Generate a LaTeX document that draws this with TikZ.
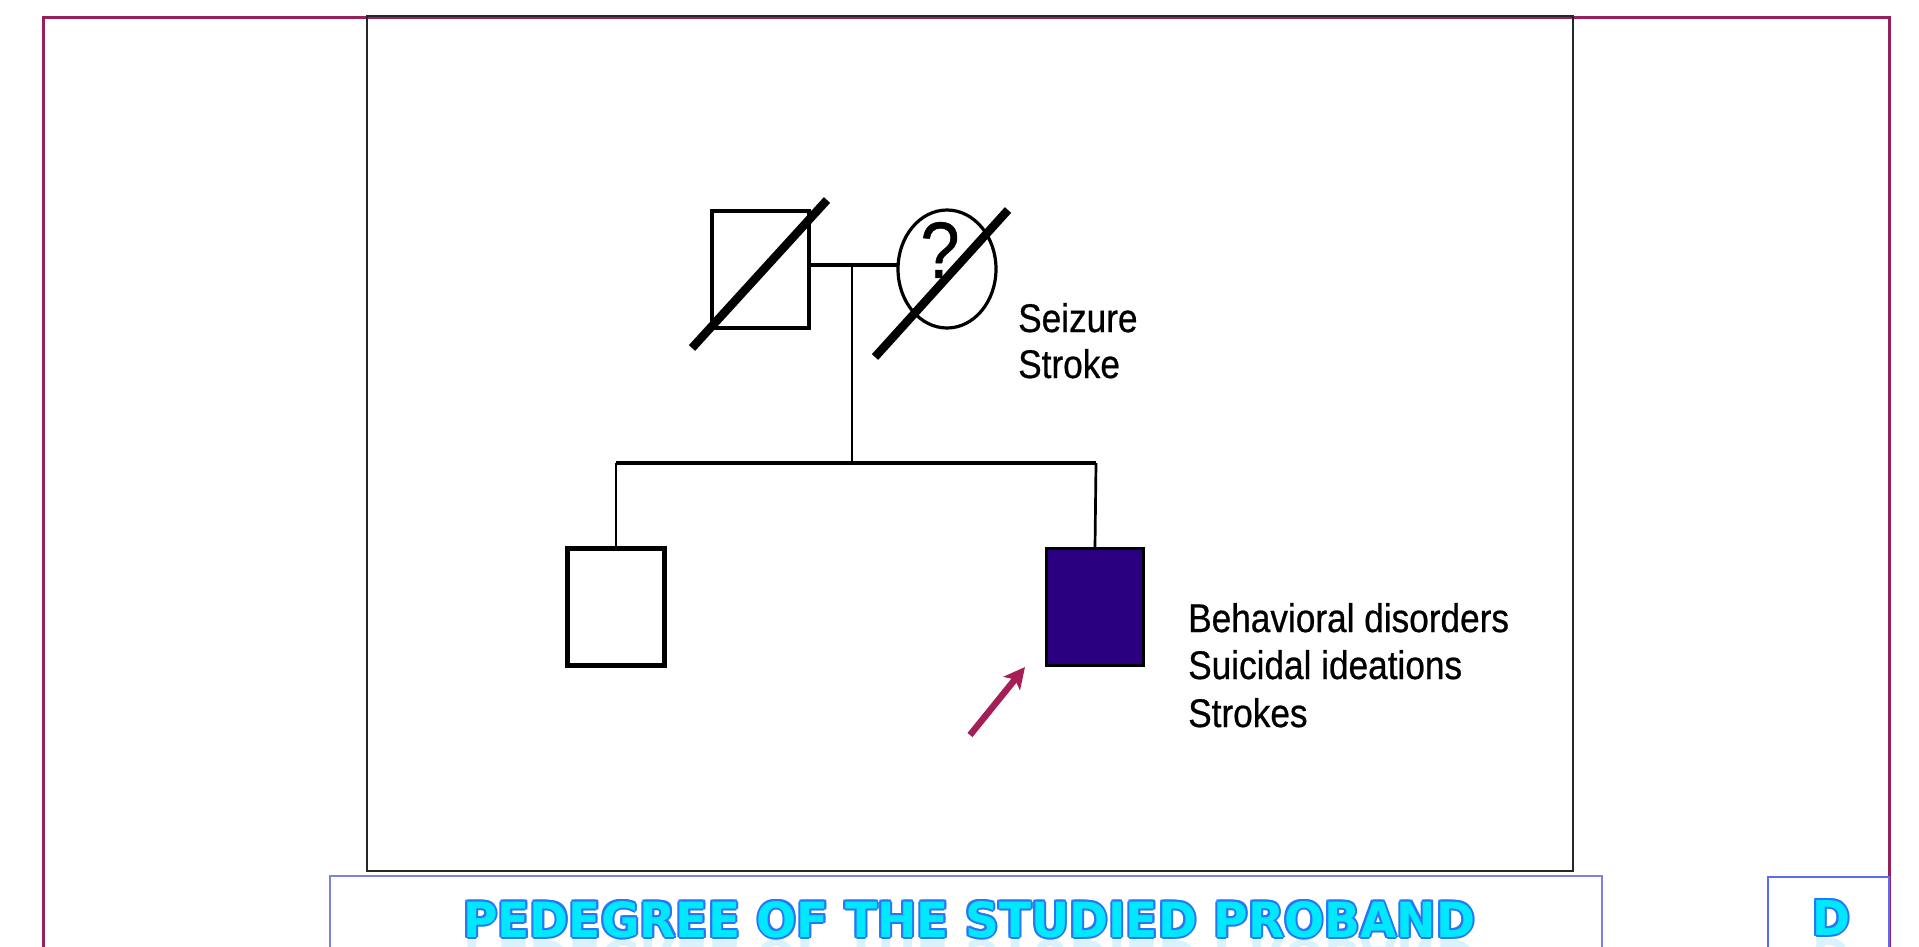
\documentclass[tikz,border=0pt]{standalone}
\usepackage{fontspec}
\usepackage{graphicx}
\setmainfont{Liberation Sans}
\newfontfamily\notefont{Liberation Sans}[FakeStretch=0.88, FakeBold=0.6]
\newfontfamily\headfont{DejaVu Sans}
\usetikzlibrary{shapes.geometric,arrows.meta}

\definecolor{framered}{RGB}{152,32,92}
\definecolor{bannerblue}{RGB}{128,130,225}
\definecolor{tagblue}{RGB}{88,108,245}
\definecolor{headcyan}{RGB}{0,232,255}
\definecolor{headedge}{RGB}{40,118,245}
\definecolor{headglow}{RGB}{170,228,255}
\definecolor{probandfill}{RGB}{42,0,128}
\definecolor{pointer}{RGB}{165,30,85}

\newcommand\headline{\resizebox{1012pt}{36pt}{\headfont\bfseries PEDEGREE OF THE STUDIED PROBAND}}
\newcommand\panelletter{\resizebox{38pt}{35pt}{\headfont\bfseries D}}

\tikzset{
  person/.style={draw=black, line width=4pt, inner sep=0pt,
                 minimum width=97pt, minimum height=117pt},
  female/.style={ellipse, draw=black, line width=3.2pt, inner sep=0pt,
                 minimum width=98pt, minimum height=118pt},
  deceased/.style={line width=8.5pt, black},
  kinline/.style={line width=3.6pt, black},
  childline/.style={line width=2.7pt, black},
  note/.style={anchor=base west, inner sep=0pt, font=\notefont\fontsize{40}{44}\selectfont},
  headpart/.style={anchor=base west, inner sep=0pt},
}

\begin{document}
\begin{tikzpicture}[x=1pt, y=-1pt]
  \useasboundingbox (0,0) rectangle (1919,946);
  \fill[white] (0,0) rectangle (1919,946);
  \clip (0,0) rectangle (1919,946);

  % slide frames
  \draw[framered, line width=3pt] (43,960) -- (43,17) -- (1889,17) -- (1889,960);
  \draw[black!85, line width=1.6pt] (367,16) rectangle (1573,871);
  \draw[bannerblue, line width=2pt] (330,960) -- (330,876) -- (1602,876) -- (1602,960);
  \draw[tagblue, line width=2.5pt] (1768,960) -- (1768,877) -- (1889,877) -- (1889,960);

  % generation I
  \node[person] (father) at (760,269) {};
  \node[female] (mother) at (947,269) {};
  \node[inner sep=0pt, font=\notefont\fontsize{80}{80}\selectfont] (query) at (940,250) {?};
  \draw[deceased] (692,348) -- (827,200);
  \draw[deceased] (875,357) -- (1008,210);
  \coordinate (fatherside) at (808,265);
  \coordinate (motherside) at (898,265);
  \draw[kinline] (fatherside) -- (motherside);
  \coordinate (union) at (852,265);
  \coordinate (sibtop) at (852,463);
  \draw[childline] (union) -- (sibtop);

  % generation II
  \node[person, line width=4.2pt] (brother) at (616,607) {};
  \node[person, line width=3pt, fill=probandfill] (proband) at (1095,607) {};
  \coordinate (sibleft) at (616,463);
  \coordinate (sibright) at (1096,463);
  \draw[kinline] (sibleft) -- (sibright);
  \draw[childline] (sibleft) -- (brother.north);
  \draw[childline] (sibright) -- (proband.north);

  % proband pointer
  \coordinate (ptail) at (970,735);
  \coordinate (phead) at (1025,667);
  \draw[pointer, line width=6.5pt, -{Stealth[length=21pt, width=21pt, inset=5pt]}] (ptail) -- (phead);

  % clinical notes
  \node[note] (seizure) at (1018,332) {Seizure};
  \node[note] (stroke) at (1018,378) {Stroke};
  \node[note] (behav) at (1188,632) {Behavioral disorders};
  \node[note] (suicid) at (1188,679) {Suicidal ideations};
  \node[note] (strokes) at (1188,727) {Strokes};

  % banner title: reflection, outline, fill
  \node[headpart, anchor=north west, text=headglow, opacity=0.45] (headmirror) at (463,940)
       {\scalebox{1}[-1]{\headline}};
  \foreach \a in {0,45,...,315}
    \node[headpart, text=headedge, shift={(\a:2pt)}] (headedge\a) at (463,937) {\headline};
  \node[headpart, text=headcyan] (headtitle) at (463,937) {\headline};

  % panel letter
  \node[headpart, anchor=north west, text=headglow, opacity=0.45] (tagmirror) at (1812,938)
       {\scalebox{1}[-1]{\panelletter}};
  \foreach \a in {0,45,...,315}
    \node[headpart, text=headedge, shift={(\a:2pt)}] (tagedge\a) at (1812,935) {\panelletter};
  \node[headpart, text=headcyan] (tagletter) at (1812,935) {\panelletter};
\end{tikzpicture}
\end{document}
